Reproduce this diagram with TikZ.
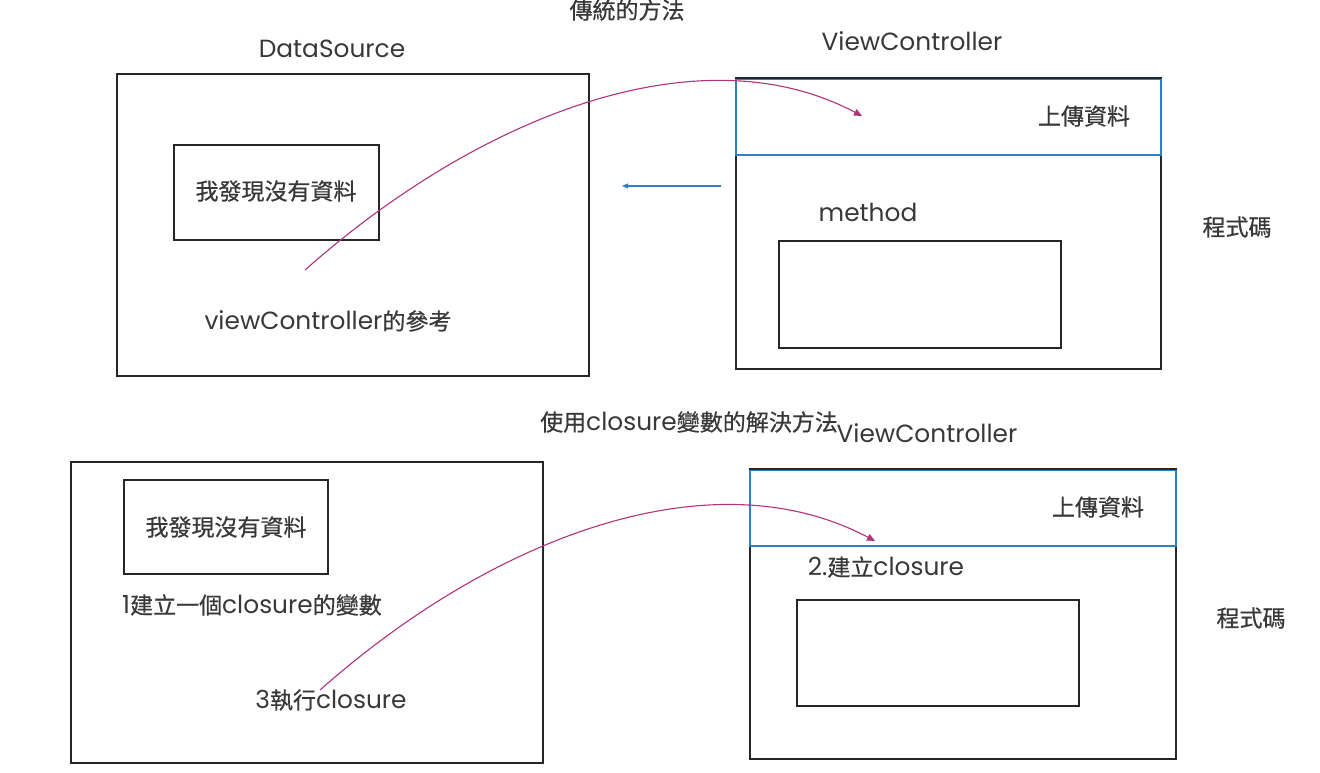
\documentclass[tikz,border=0pt]{standalone}
\usepackage{fontspec}
\setmainfont{Poppins}[Scale=1.08]
\newfontfamily\cjk{Noto Sans CJK TC}[FakeBold=0.5]
\usetikzlibrary{arrows.meta}
\definecolor{txtgray}{HTML}{383838}
\definecolor{linkpink}{HTML}{B2327C}
\definecolor{callblue}{HTML}{2C80C6}
\tikzset{
	label/.style={text=txtgray, font=\fontsize{23}{26}\selectfont, inner sep=0pt},
	box/.style={draw=black!85, line width=1.2pt},
	topbox/.style={draw=callblue, line width=1.1pt},
	link/.style={draw=linkpink, line width=1.1pt, -{Triangle[length=8pt,width=7pt]}},
	call/.style={draw=callblue, line width=1.1pt, -{Triangle[length=6pt,width=5pt]}}
}

\begin{document}
\begin{tikzpicture}[x=1pt, y=-1pt]
		%%%%% START %%%%%
		\useasboundingbox (0, 0) rectangle (1320, 772);
		
		% traditional way
		\node[label] (titleA) at (627, 10) {\cjk 傳統的方法};
		\node[label] (dsName) at (332, 49) {DataSource};
		\draw[box] (117, 74) rectangle (589, 376);
		\draw[box] (174, 145) rectangle (379, 240);
		\node[label] (noDataA) at (276, 191) {\cjk 我發現沒有資料};
		\node[label] (refA) at (328, 321) {viewController{\cjk 的參考}};
		
		\node[label] (vcNameA) at (912, 41) {ViewController};
		\draw[box] (736, 78) rectangle (1161, 369);
		\draw[topbox] (736, 79.5) rectangle (1161, 155);
		\node[label] (uploadA) at (1084, 116) {\cjk 上傳資料};
		\node[label] (methodA) at (868, 212) {method};
		\draw[box] (779, 241) rectangle (1061, 348);
		\node[label] (codeA) at (1237, 227) {\cjk 程式碼};
		
		\coordinate (fromA) at (305, 270);
		\coordinate (toA) at (862, 116);
		\draw[link] (fromA) .. controls (480, 115) and (700, 30) .. (toA);
		\coordinate (callFrom) at (721, 186);
		\coordinate (callTo) at (622, 186);
		\draw[call] (callFrom) -- (callTo);
		
		% closure way
		\node[label] (titleB) at (689, 422) {{\cjk 使用}closure{\cjk 變數的解決方法}};
		\node[label] (vcNameB) at (927, 433) {ViewController};
		\draw[box] (71, 462) rectangle (543, 763);
		\draw[box] (124, 480) rectangle (328, 574);
		\node[label] (noDataB) at (226, 527) {\cjk 我發現沒有資料};
		\node[label] (makeB) at (252, 605) {1{\cjk 建立一個}closure{\cjk 的變數}};
		\node[label] (runB) at (331, 700) {3{\cjk 執行}closure};
		
		\draw[box] (750, 469) rectangle (1176, 759);
		\draw[topbox] (750, 470.5) rectangle (1176, 546);
		\node[label] (uploadB) at (1098, 507) {\cjk 上傳資料};
		\node[label] (buildB) at (886, 567) {2.{\cjk 建立}closure};
		\draw[box] (797, 600) rectangle (1079, 706);
		\node[label] (codeB) at (1251, 618) {\cjk 程式碼};
		
		\coordinate (fromB) at (320, 690);
		\coordinate (toB) at (875, 541);
		\draw[link] (fromB) .. controls (495, 535) and (713, 455) .. (toB);
		%%%%% END %%%%%
\end{tikzpicture}
\end{document}
